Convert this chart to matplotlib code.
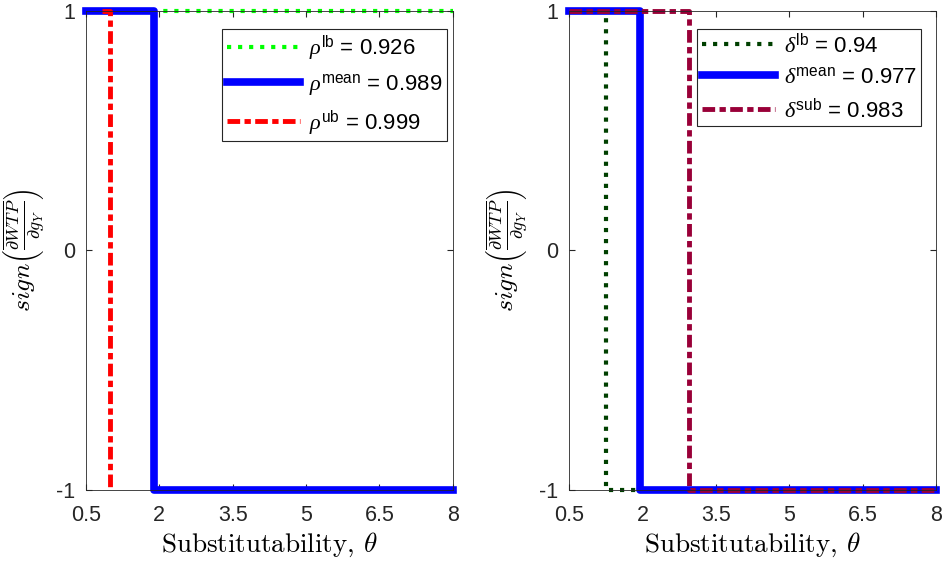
import matplotlib.pyplot as plt

plt.rcParams['font.family'] = ['Liberation Sans', 'DejaVu Sans']
plt.rcParams['mathtext.fontset'] = 'custom'
plt.rcParams['mathtext.rm'] = 'Liberation Sans'
plt.rcParams['mathtext.it'] = 'Liberation Serif:italic'

# switching points of sign(dWTP/dg_Y) over theta (steps-post)
theta_rho_lb = [0.5, 8.0]
sign_rho_lb = [1, 1]
theta_rho_mean = [0.5, 1.9, 8.0]
sign_rho_mean = [1, -1, -1]
theta_rho_ub = [0.83, 1.0, 1.0]
sign_rho_ub = [1, -1, -1]

theta_delta_lb = [0.5, 1.25, 8.0]
sign_delta_lb = [1, -1, -1]
theta_delta_mean = [0.5, 1.95, 8.0]
sign_delta_mean = [1, -1, -1]
theta_delta_sub = [0.5, 2.95, 8.0]
sign_delta_sub = [1, -1, -1]

rho_labels = ['$\\rho^{\\mathrm{lb}}$ = 0.926', '$\\rho^{\\mathrm{mean}}$ = 0.989', '$\\rho^{\\mathrm{ub}}$ = 0.999']
delta_labels = ['$\\delta^{\\mathrm{lb}}$ = 0.94', '$\\delta^{\\mathrm{mean}}$ = 0.977', '$\\delta^{\\mathrm{sub}}$ = 0.983']

xticks = [0.5, 2, 3.5, 5, 6.5, 8]
xticklabels = ['0.5', '2', '3.5', '5', '6.5', '8']
yticks = [-1, 0, 1]
yticklabels = ['-1', '0', '1']

dashdot = (2.6, 0.9, 1.3, 0.9)
grey = (0.15, 0.15, 0.15)

fig = plt.figure(figsize=(9.45, 5.65), dpi=100)
ax1 = fig.add_axes([0.091, 0.133, 0.388, 0.848])
ax2 = fig.add_axes([0.602, 0.133, 0.389, 0.848])

ax1.plot(theta_rho_lb, sign_rho_lb, ':', color=(0, 1, 0), lw=3, drawstyle='steps-post', clip_on=False, label=rho_labels[0])
ax1.plot(theta_rho_mean, sign_rho_mean, '-', color=(0, 0, 1), lw=5.5, drawstyle='steps-post', clip_on=False, label=rho_labels[1])
ax1.plot(theta_rho_ub, sign_rho_ub, color=(1, 0, 0), lw=3.5, dashes=dashdot, drawstyle='steps-post', clip_on=False, label=rho_labels[2])

ax2.plot(theta_delta_lb, sign_delta_lb, ':', color=(0, 0.25, 0), lw=3, drawstyle='steps-post', clip_on=False, label=delta_labels[0])
ax2.plot(theta_delta_mean, sign_delta_mean, '-', color=(0, 0, 1), lw=5.5, drawstyle='steps-post', clip_on=False, label=delta_labels[1])
ax2.plot(theta_delta_sub, sign_delta_sub, color=(0.6, 0, 0.22), lw=3.5, dashes=dashdot, drawstyle='steps-post', clip_on=False, label=delta_labels[2])

ylab = '$sign\\left(\\frac{\\overline{\\partial WTP}}{\\partial g_Y}\\right)$'
legend_anchor = [(0.984, 0.962), (0.959, 0.962)]

for ax, anchor in zip([ax1, ax2], legend_anchor):
    ax.set_xlim(0.5, 8)
    ax.set_ylim(-1, 1)
    ax.set_xticks(xticks)
    ax.set_xticklabels(xticklabels)
    ax.set_yticks(yticks)
    ax.set_yticklabels(yticklabels)
    ax.tick_params(direction='in', labelsize=15.5, length=4, colors=grey, pad=8,
                   top=True, right=True)
    ax.tick_params(axis='x', pad=11)
    for s in ax.spines.values():
        s.set_color(grey)
        s.set_linewidth(0.6)
    ax.set_xlabel('Substitutability, $\\theta$', fontsize=19.5, family='cmr10', math_fontfamily='cm', labelpad=3)
    ax.set_ylabel(ylab, fontsize=18.5, math_fontfamily='cm', labelpad=6)
    leg = ax.legend(loc='upper right', bbox_to_anchor=anchor, fontsize=16, handlelength=3.3,
                    fancybox=False, framealpha=1, edgecolor=grey, borderaxespad=0,
                    labelspacing=0.45, handletextpad=0.4, borderpad=0.2)
    leg.get_frame().set_linewidth(0.8)

fig.savefig('out.png', dpi=100)
